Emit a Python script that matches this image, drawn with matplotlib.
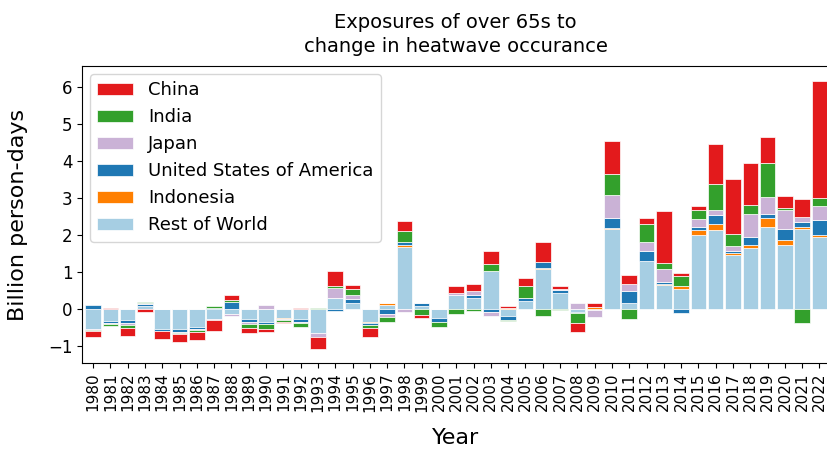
import numpy as np
import matplotlib
matplotlib.use("Agg")
import matplotlib.pyplot as plt

years = list(range(1980, 2023))

china = [-0.18, 0.05, -0.22, -0.07, -0.22, -0.23, -0.23, -0.28, 0.12, -0.15,
         -0.08, -0.05, 0.03, -0.32, 0.41, 0.10, -0.24, 0.00, 0.28, -0.09,
         0.00, 0.18, 0.19, 0.37, 0.04, 0.23, 0.54, 0.07, -0.23, 0.09,
         0.88, 0.23, 0.16, 1.41, 0.09, 0.10, 1.10, 1.49, 1.14, 0.69,
         0.32, 0.50, 3.17]
india = [-0.02, -0.07, -0.10, 0.02, 0.02, -0.02, -0.04, 0.03, 0.05, -0.10,
         -0.13, -0.04, -0.11, 0.03, 0.05, 0.16, -0.08, -0.13, 0.30, -0.15,
         -0.16, -0.12, -0.04, 0.18, -0.02, 0.32, -0.18, -0.03, -0.27, 0.00,
         0.57, -0.26, 0.49, 0.16, 0.27, 0.25, 0.68, 0.32, 0.23, 0.92,
         0.07, -0.38, 0.21]
japan = [-0.04, -0.03, -0.05, 0.02, 0.00, -0.03, -0.03, -0.03, -0.05, -0.05,
         0.11, -0.03, -0.04, -0.11, 0.26, 0.12, 0.00, -0.07, -0.07, 0.00,
         0.00, 0.05, 0.12, -0.12, 0.02, 0.00, 0.00, 0.04, 0.16, -0.17,
         0.62, 0.18, 0.24, 0.35, 0.00, 0.21, 0.14, 0.14, 0.61, 0.45,
         0.51, 0.12, 0.39]
usa = [0.12, -0.05, -0.07, 0.07, -0.06, -0.08, -0.05, 0.05, 0.21, -0.08,
       -0.05, 0.02, -0.08, 0.00, -0.04, 0.11, -0.04, -0.13, 0.08, 0.08,
       -0.09, 0.00, 0.07, -0.06, -0.13, 0.07, 0.16, 0.07, -0.04, -0.02,
       0.27, 0.33, 0.27, 0.06, -0.11, 0.08, 0.24, 0.05, 0.23, 0.11,
       0.29, 0.15, 0.41]
indonesia = [0.00, 0.00, 0.00, 0.00, 0.00, 0.00, 0.00, 0.00, 0.00, 0.00,
             0.00, -0.02, 0.00, 0.00, 0.00, 0.01, -0.03, 0.03, 0.05, 0.00,
             0.00, 0.00, 0.00, 0.00, 0.03, 0.00, 0.04, 0.00, 0.00, 0.07,
             0.05, 0.00, 0.01, 0.03, 0.09, 0.13, 0.18, 0.05, 0.08, 0.25,
             0.14, 0.05, 0.04]
rest_of_world = [-0.52, -0.31, -0.29, 0.08, -0.53, -0.53, -0.48, -0.27, -0.12, -0.27,
                 -0.34, -0.24, -0.25, -0.65, 0.32, 0.16, -0.35, 0.13, 1.69, 0.10,
                 -0.24, 0.40, 0.31, 1.04, -0.17, 0.23, 1.09, 0.45, -0.06, -0.01,
                 2.16, 0.18, 1.30, 0.65, 0.54, 2.02, 2.14, 1.48, 1.66, 2.23,
                 1.74, 2.17, 1.96]

# stacked bottom-up in this order; legend lists them top-down
series = [
    ("Rest of World", rest_of_world, "#a6cee3"),
    ("Indonesia", indonesia, "#ff7f00"),
    ("United States of America", usa, "#1f78b4"),
    ("Japan", japan, "#cab2d6"),
    ("India", india, "#33a02c"),
    ("China", china, "#e31a1c"),
]

fig = plt.figure(figsize=(8.27, 4.53), dpi=100)
ax = fig.add_axes([82 / 827, 1 - 363 / 453, (829 - 82) / 827, (363 - 66) / 453])

x = np.arange(len(years))
pos_base = np.zeros(len(years))
neg_base = np.zeros(len(years))
handles = []
for name, vals, color in series:
    v = np.asarray(vals, dtype=float)
    bottom = np.where(v >= 0, pos_base, neg_base)
    bars = ax.bar(x, v, width=0.9, bottom=bottom, color=color,
                  edgecolor="white", linewidth=0.5, label=name)
    handles.append(bars)
    pos_base += np.where(v >= 0, v, 0)
    neg_base += np.where(v < 0, v, 0)

ax.set_xlim(-0.64, len(years) - 1 + 0.55)
ax.set_ylim(-1.45, 6.58)
ax.set_xticks(x)
ax.set_xticklabels([str(y) for y in years], rotation=90, fontsize=11)
ax.set_yticks(range(-1, 7))
ax.tick_params(axis="y", labelsize=12)
ax.set_xlabel("Year", fontsize=16, labelpad=12)
ax.set_ylabel("Billion person-days", fontsize=16, labelpad=14)
ax.set_title("Exposures of over 65s to\nchange in heatwave occurance",
             fontsize=14, linespacing=1.35, pad=10)

ax.legend(handles[::-1], [s[0] for s in series][::-1], loc="upper left",
          fontsize=13, labelspacing=0.5, borderaxespad=0.45)

fig.savefig("out.png", dpi=100)
